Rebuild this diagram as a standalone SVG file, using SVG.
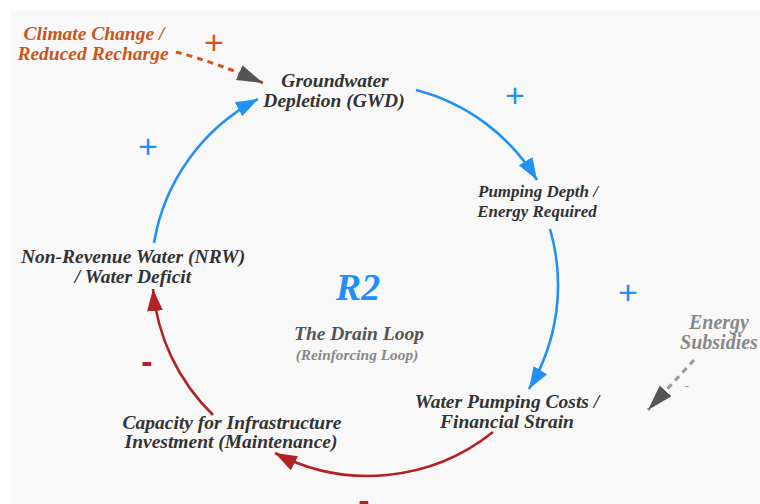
<svg xmlns="http://www.w3.org/2000/svg" width="760" height="504" viewBox="0 0 760 504">
<defs>
<style>
.lbl{font-family:"Liberation Serif","Times New Roman",serif;font-weight:bold;font-style:italic;text-anchor:middle}
.node{fill:#333;font-size:19.5px}
.sm{font-size:17px}
.sign{font-family:"Liberation Sans",Arial,sans-serif;text-anchor:middle;font-size:34px}
.blue{stroke:#2390f5;fill:none;stroke-width:2.6}
.red{stroke:#b22222;fill:none;stroke-width:2.6}
</style>
<marker id="ab" markerUnits="userSpaceOnUse" markerWidth="24" markerHeight="18" refX="22" refY="8" orient="auto" viewBox="0 0 24 18"><path d="M0,0 L22,8 L0,16 z" fill="#2390f5" stroke="none"/></marker>
<marker id="ar" markerUnits="userSpaceOnUse" markerWidth="24" markerHeight="18" refX="22" refY="8" orient="auto" viewBox="0 0 24 18"><path d="M0,0 L22,8 L0,16 z" fill="#b22222" stroke="none"/></marker>
<marker id="ag" markerUnits="userSpaceOnUse" markerWidth="28" markerHeight="18" refX="26" refY="8" orient="auto" viewBox="0 0 28 18"><path d="M0,0 L26,8 L0,16 z" fill="#555" stroke="none"/></marker>
</defs>
<rect width="760" height="504" fill="#ffffff"/>
<rect x="11" y="11" width="749" height="493" fill="#f8f8f8"/>
<g id="connectors">
<path class="blue" d="M416,90 A200,200 0 0 1 537,180" marker-end="url(#ab)"/>
<path class="blue" d="M550,229 A200,200 0 0 1 529,389" marker-end="url(#ab)"/>
<path class="red" d="M493,432 A200,200 0 0 1 275,453" marker-end="url(#ar)"/>
<path class="red" d="M213,415 A200,200 0 0 1 153,289" marker-end="url(#ar)"/>
<path class="blue" d="M154,243 A200,200 0 0 1 258,99" marker-end="url(#ab)"/>
<path d="M176,52 Q215,62 263,83" fill="none" stroke="#cc5a1e" stroke-width="3" stroke-dasharray="6,5" marker-end="url(#ag)"/>
<path d="M694,360 L648,410" fill="none" stroke="#999" stroke-width="3" stroke-dasharray="6,5" marker-end="url(#ag)"/>
<text class="sign" x="214" y="54" fill="#cc5a1e">+</text>
<text class="sign" x="515" y="107" fill="#2390f5">+</text>
<text class="sign" x="628" y="304" fill="#2390f5">+</text>
<text class="sign" x="148" y="158" fill="#2390f5">+</text>
<text class="sign" x="147" y="373" fill="#b22222" font-weight="bold">-</text>
<text class="sign" x="364" y="512" fill="#b22222" font-weight="bold">-</text>
<text x="687" y="390" font-family="Liberation Sans,Arial,sans-serif" font-size="12" fill="#888" text-anchor="middle">-</text>
</g>
<g id="climate">
<text class="lbl" x="94" y="40" font-size="19.5" fill="#c9561c">Climate Change /</text>
<text class="lbl" x="93" y="60" font-size="19.5" fill="#c9561c">Reduced Recharge</text>
</g>
<g id="gwd">
<text class="lbl node" x="335" y="87">Groundwater</text>
<text class="lbl node" x="334" y="107" font-size="20">Depletion (GWD)</text>
</g>
<g id="pumping">
<text class="lbl node sm" x="538" y="197">Pumping Depth /</text>
<text class="lbl node sm" x="537" y="217">Energy Required</text>
</g>
<g id="costs">
<text class="lbl node" x="507" y="408">Water Pumping Costs /</text>
<text class="lbl node" x="507" y="428">Financial Strain</text>
</g>
<g id="capacity">
<text class="lbl node" x="232" y="429">Capacity for Infrastructure</text>
<text class="lbl node" x="231" y="448">Investment (Maintenance)</text>
</g>
<g id="nrw">
<text class="lbl node" x="133" y="263">Non-Revenue Water (NRW)</text>
<text class="lbl node" x="133" y="283">/ Water Deficit</text>
</g>
<g id="subsidies">
<text class="lbl" x="719" y="329" font-size="20" fill="#888">Energy</text>
<text class="lbl" x="719" y="349" font-size="20" fill="#888">Subsidies</text>
</g>
<g id="loop">
<text class="lbl" x="358" y="300" font-size="38" fill="#2390f5">R2</text>
<text class="lbl" x="359" y="340" font-size="19.5" fill="#555">The Drain Loop</text>
<text class="lbl" x="357" y="360" font-size="15.4" fill="#888">(Reinforcing Loop)</text>
</g>
</svg>
